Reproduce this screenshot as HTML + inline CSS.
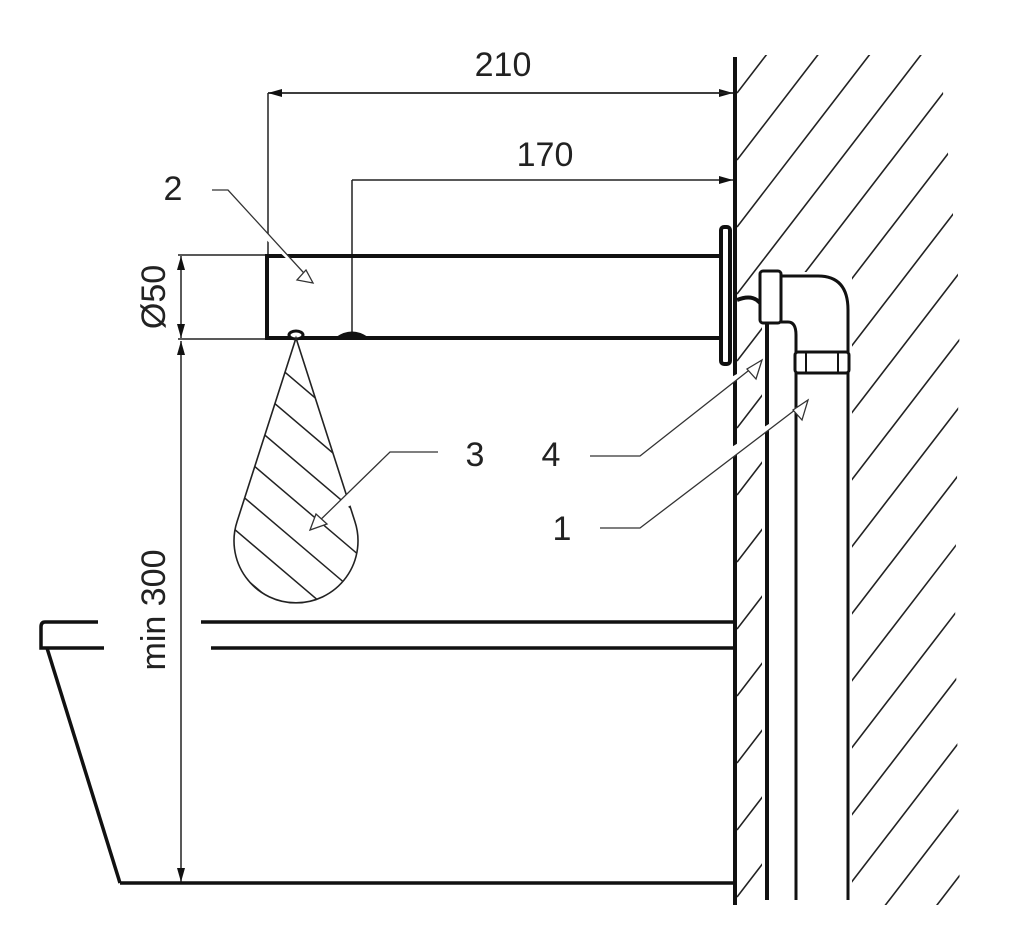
<!DOCTYPE html>
<html><head><style>
html,body{margin:0;padding:0;background:#fff;width:1024px;height:948px;overflow:hidden;}
svg{display:block;overflow:hidden;position:absolute;left:0;top:0;}
text{font-family:"Liberation Sans",sans-serif;font-size:34px;fill:#222;}
</style></head><body>
<svg width="1024" height="948" viewBox="0 0 1024 948" xmlns="http://www.w3.org/2000/svg">
<defs>
<clipPath id="wall"><polygon points="737,55 940,55 960,300 955,600 960,905 737,905"/></clipPath>
<clipPath id="drop"><path d="M296,338 L354.9,521.5 A62,62 0 1 1 237.1,521.5 Z"/></clipPath>
<marker id="ar" markerWidth="14" markerHeight="8" refX="14" refY="4" orient="auto" markerUnits="userSpaceOnUse"><path d="M0,0 L14,4 L0,8 Z" fill="#111"/></marker>
</defs>
<g clip-path="url(#wall)" stroke="#222" stroke-width="1.6">
<line x1="737" y1="93" x2="1237" y2="-557"/>
<line x1="737" y1="160" x2="1237" y2="-490"/>
<line x1="737" y1="227" x2="1237" y2="-423"/>
<line x1="737" y1="294" x2="1237" y2="-356"/>
<line x1="737" y1="361" x2="1237" y2="-289"/>
<line x1="737" y1="428" x2="1237" y2="-222"/>
<line x1="737" y1="495" x2="1237" y2="-155"/>
<line x1="737" y1="562" x2="1237" y2="-88"/>
<line x1="737" y1="629" x2="1237" y2="-21"/>
<line x1="737" y1="696" x2="1237" y2="46"/>
<line x1="737" y1="763" x2="1237" y2="113"/>
<line x1="737" y1="830" x2="1237" y2="180"/>
<line x1="737" y1="897" x2="1237" y2="247"/>
<line x1="737" y1="964" x2="1237" y2="314"/>
<line x1="737" y1="1031" x2="1237" y2="381"/>
<line x1="737" y1="1098" x2="1237" y2="448"/>
<line x1="737" y1="1165" x2="1237" y2="515"/>
<line x1="737" y1="1232" x2="1237" y2="582"/>
<line x1="737" y1="1299" x2="1237" y2="649"/>
<line x1="737" y1="1366" x2="1237" y2="716"/>
</g>
<rect x="762" y="272" width="90" height="635" fill="#fff"/>
<line x1="735" y1="57" x2="735" y2="905" stroke="#111" stroke-width="4"/>
<g stroke="#222" stroke-width="1.5" fill="none">
<line x1="268" y1="93" x2="268" y2="255"/>
<line x1="268" y1="93" x2="733" y2="93" marker-end="url(#ar)"/>
<line x1="733" y1="93" x2="268" y2="93" marker-end="url(#ar)"/>
<line x1="352" y1="180" x2="352" y2="333"/>
<line x1="352" y1="180" x2="733" y2="180" marker-end="url(#ar)"/>
<line x1="178" y1="255" x2="267" y2="255"/>
<line x1="178" y1="339" x2="267" y2="339"/>
<line x1="181" y1="297" x2="181" y2="256" marker-end="url(#ar)"/>
<line x1="181" y1="297" x2="181" y2="338" marker-end="url(#ar)"/>
<line x1="181" y1="600" x2="181" y2="341" marker-end="url(#ar)"/>
<line x1="181" y1="600" x2="181" y2="882" marker-end="url(#ar)"/>
</g>
<text x="503" y="76" text-anchor="middle">210</text>
<text x="545" y="166" text-anchor="middle">170</text>
<text transform="translate(165,297) rotate(-90)" text-anchor="middle">Ø50</text>
<text transform="translate(165,610) rotate(-90)" text-anchor="middle">min 300</text>
<rect x="267" y="256" width="455" height="82" fill="none" stroke="#111" stroke-width="4"/>
<rect x="721" y="227" width="9" height="137" rx="3" fill="#fff" stroke="#111" stroke-width="4"/>
<ellipse cx="296" cy="335" rx="7" ry="4" fill="#fff" stroke="#111" stroke-width="3"/>
<path d="M336,337 Q352,326 368,337 Z" fill="#111"/>
<g clip-path="url(#drop)" stroke="#222" stroke-width="1.5">
<line x1="200" y1="300" x2="400" y2="470"/>
<line x1="200" y1="340" x2="400" y2="510"/>
<line x1="200" y1="380" x2="400" y2="550"/>
<line x1="200" y1="420" x2="400" y2="590"/>
<line x1="200" y1="460" x2="400" y2="630"/>
<line x1="200" y1="500" x2="400" y2="670"/>
<line x1="200" y1="540" x2="400" y2="710"/>
<line x1="200" y1="580" x2="400" y2="750"/>
</g>
<path d="M296,338 L354.9,521.5 A62,62 0 1 1 237.1,521.5 Z" fill="none" stroke="#222" stroke-width="1.6"/>
<g stroke="#111" stroke-width="3.5" fill="none">
<path d="M98,622 L45,622 Q41,622 41,627 L41,648 L104,648"/>
<line x1="201" y1="622" x2="733" y2="622"/>
<line x1="211" y1="648" x2="733" y2="648"/>
<line x1="47" y1="648" x2="120" y2="883"/>
<line x1="120" y1="883" x2="733" y2="883"/>
</g>
<g stroke="#111" fill="none">
<line x1="767" y1="320" x2="767" y2="900" stroke-width="4"/>
<line x1="768" y1="320" x2="768" y2="900" stroke-width="2"/>
<path d="M737,300 Q762,290 766,320" stroke-width="4"/>
<rect x="760" y="271" width="21" height="52" rx="3" fill="#fff" stroke-width="3"/>
<path d="M781,276 L818,276 Q848,276 848,310 L848,900" stroke-width="3"/>
<path d="M781,322 L788,322 Q796,322 796,335 L796,900" stroke-width="3"/>
<rect x="795" y="352" width="54" height="21" rx="3" fill="#fff" stroke-width="3"/>
<line x1="806" y1="353" x2="806" y2="372" stroke-width="2"/>
<line x1="838" y1="353" x2="838" y2="372" stroke-width="2"/>
</g>
<g stroke="#333" stroke-width="1.3" fill="#fff">
<path d="M212,190 L228,190 L313,283"/>
<path d="M313,283 L297,280 L306,270 Z"/>
<path d="M438,452 L390,452 L310,530"/>
<path d="M310,530 L316,514 L327,524 Z"/>
<path d="M590,456 L640,456 L762,360"/>
<path d="M762,360 L747,369 L756,379 Z"/>
<path d="M600,528 L640,528 L808,400"/>
<path d="M808,400 L793,410 L802,420 Z"/>
</g>
<text x="173" y="200" text-anchor="middle">2</text>
<text x="475" y="466" text-anchor="middle">3</text>
<text x="551" y="466" text-anchor="middle">4</text>
<text x="562" y="540" text-anchor="middle">1</text>
</svg>
</body></html>
